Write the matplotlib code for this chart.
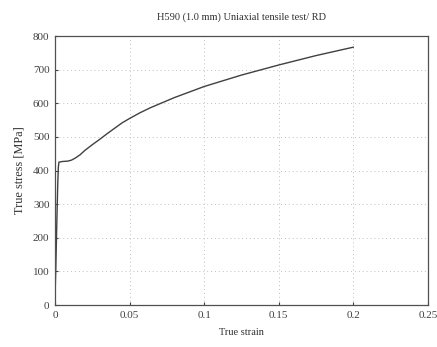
import numpy as np
import matplotlib
matplotlib.use('Agg')
import matplotlib.pyplot as plt

plt.rcParams['font.family'] = 'Liberation Serif'

# values
strain = [0.0, 0.0005, 0.0012, 0.0018, 0.0022, 0.0026, 0.005, 0.0085, 0.011, 0.0135, 0.0168,
          0.02, 0.025, 0.03, 0.035, 0.04, 0.045, 0.05, 0.057, 0.064, 0.08, 0.1, 0.125, 0.15, 0.175, 0.2]
stress = [30, 110, 250, 360, 410, 425, 427, 428, 431, 437, 447,
          460, 477, 493, 510, 526, 542, 555, 572, 587, 617, 650, 684, 714, 742, 767]

xticks = [0, 0.05, 0.1, 0.15, 0.2, 0.25]
xticklabels = ['0', '0.05', '0.1', '0.15', '0.2', '0.25']
yticks = [0, 100, 200, 300, 400, 500, 600, 700, 800]

fig = plt.figure(figsize=(4.37, 3.47), dpi=100)
ax = fig.add_axes([0.126, 0.121, 0.853, 0.775])
ax.plot(strain, stress, color='#404040', lw=1.0)

ax.set_xlim(0, 0.25)
ax.set_ylim(0, 800)
ax.set_xticks(xticks)
ax.set_xticklabels(xticklabels)
ax.set_yticks(yticks)
ax.tick_params(direction='in', length=2, labelsize=8, colors='#404040', pad=4)
ax.grid(True, linestyle=(0, (1, 3)), color='#c0c0c0', lw=0.7)
for s in ax.spines.values():
    s.set_color('#505050')
    s.set_linewidth(0.9)

ax.set_xlabel('True strain', fontsize=7.5, labelpad=6, color='#303030')
ax.set_ylabel('True stress [MPa]', fontsize=8.8, labelpad=5, color='#303030')
ax.set_title('H590 (1.0 mm) Uniaxial tensile test/ RD', fontsize=7.5, pad=12, color='#303030')

fig.savefig('out.png', dpi=100)
